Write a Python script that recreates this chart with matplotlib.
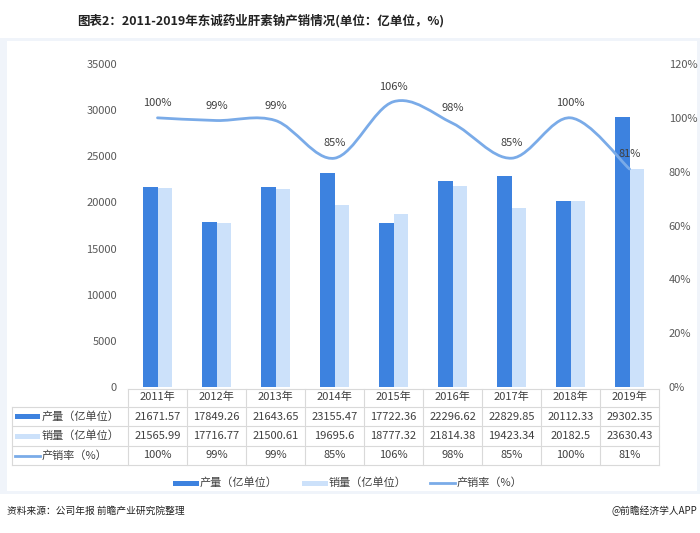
import numpy as np
import matplotlib
matplotlib.use("Agg")
import matplotlib.pyplot as plt
from matplotlib.path import Path
from matplotlib.patches import PathPatch, Rectangle
from matplotlib.lines import Line2D
from matplotlib.transforms import blended_transform_factory
from matplotlib.ticker import FuncFormatter, MultipleLocator

plt.rcParams['font.family'] = ['Noto Sans CJK SC', 'DejaVu Sans']

years = ['2011年', '2012年', '2013年', '2014年', '2015年', '2016年', '2017年', '2018年', '2019年']
production = [21671.57, 17849.26, 21643.65, 23155.47, 17722.36, 22296.62, 22829.85, 20112.33, 29302.35]
sales = [21565.99, 17716.77, 21500.61, 19695.6, 18777.32, 21814.38, 19423.34, 20182.5, 23630.43]
rate = [100, 99, 99, 85, 106, 98, 85, 100, 81]
prod_labels = ['21671.57', '17849.26', '21643.65', '23155.47', '17722.36', '22296.62', '22829.85', '20112.33', '29302.35']
sales_labels = ['21565.99', '17716.77', '21500.61', '19695.6', '18777.32', '21814.38', '19423.34', '20182.5', '23630.43']
series_names = ['产量（亿单位）', '销量（亿单位）', '产销率（%）']
title = '图表2：2011-2019年东诚药业肝素钠产销情况(单位：亿单位，%)'
source = '资料来源：公司年报 前瞻产业研究院整理'
credit = '@前瞻经济学人APP'

C_DARK = '#3d82df'
C_LIGHT = '#cce1fa'
C_LINE = '#7aabe8'
C_TEXT = '#595959'
C_GRID = '#d9d9d9'
FS = 8

W, H = 700, 533
fig = plt.figure(figsize=(W / 100, H / 100), dpi=100)

def fx(px):
    return px / W

def fy(py):
    return 1 - py / H

# panel frame
fig.add_artist(Rectangle((fx(0), fy(494)), fx(700), (494 - 38) / H, transform=fig.transFigure,
                         facecolor='#f0f4fa', edgecolor='none', zorder=0))
fig.add_artist(Rectangle((fx(7), fy(491)), fx(690), (491 - 41) / H, transform=fig.transFigure,
                         facecolor='white', edgecolor='none', zorder=0))

ax = fig.add_axes([fx(128), fy(387), (659 - 128) / W, (387 - 64) / H])
ax.set_facecolor('none')
ax2 = ax.twinx()

x = np.arange(len(years))
ax.bar(x - 0.125, production, width=0.25, color=C_DARK, zorder=2)
ax.bar(x + 0.125, sales, width=0.23, color=C_LIGHT, zorder=2)
ax.set_xlim(-0.5, len(years) - 0.5)
ax.set_ylim(0, 35000)
ax.yaxis.set_major_locator(MultipleLocator(5000))
ax.set_xticks([])

ax2.set_ylim(0, 120)
ax2.yaxis.set_major_locator(MultipleLocator(20))
ax2.yaxis.set_major_formatter(FuncFormatter(lambda v, p: f'{v:.0f}%'))

for a in (ax, ax2):
    for s in a.spines.values():
        s.set_visible(False)
    a.tick_params(length=0, labelsize=FS, labelcolor=C_TEXT)
ax.tick_params(axis='y', pad=8)
ax2.tick_params(axis='y', pad=7)

# smoothed line via cubic Bezier path
pts = np.column_stack([x, np.array(rate, dtype=float)])
n = len(pts)
verts = [pts[0]]
codes = [Path.MOVETO]
for i in range(n - 1):
    p0 = pts[max(i - 1, 0)]
    p1 = pts[i]
    p2 = pts[i + 1]
    p3 = pts[min(i + 2, n - 1)]
    c1 = p1 + (p2 - p0) / 6
    c2 = p2 - (p3 - p1) / 6
    verts += [c1, c2, p2]
    codes += [Path.CURVE4] * 3
ax2.add_patch(PathPatch(Path(verts, codes), facecolor='none', edgecolor=C_LINE, lw=2.0,
                        capstyle='round', zorder=3))
for xi, r in zip(x, rate):
    ax2.annotate(f'{r}%', (xi, r), xytext=(0, 7), textcoords='offset points',
                 ha='center', va='bottom', fontsize=FS, color='#404040')

# table
bt = blended_transform_factory(ax.transData, fig.transFigure)
row_y = [397, 416.5, 436, 455.5]
for xi, yr in zip(x, years):
    fig.text(xi, fy(row_y[0]), yr, transform=bt, ha='center', va='center', fontsize=FS, color='#404040')
for xi, pl, sl, r in zip(x, prod_labels, sales_labels, rate):
    fig.text(xi, fy(row_y[1]), pl, transform=bt, ha='center', va='center', fontsize=FS, color='#404040')
    fig.text(xi, fy(row_y[2]), sl, transform=bt, ha='center', va='center', fontsize=FS, color='#404040')
    fig.text(xi, fy(row_y[3]), f'{r}%', transform=bt, ha='center', va='center', fontsize=FS, color='#404040')

# grid lines
for yy in [407, 426, 445.5, 465]:
    fig.add_artist(Line2D([fx(12), fx(659)], [fy(yy), fy(yy)], transform=fig.transFigure, color=C_GRID, lw=0.8))
fig.add_artist(Line2D([fx(128), fx(659)], [fy(389), fy(389)], transform=fig.transFigure, color=C_GRID, lw=0.8))
for b in np.arange(-0.5, len(years), 1.0):
    fig.add_artist(Line2D([b, b], [fy(389), fy(465)], transform=bt, color=C_GRID, lw=0.8))
fig.add_artist(Line2D([fx(12), fx(12)], [fy(407), fy(465)], transform=fig.transFigure, color=C_GRID, lw=0.8))

# row labels
fig.add_artist(Rectangle((fx(15), fy(419)), fx(25), 5 / H, transform=fig.transFigure, facecolor=C_DARK, edgecolor='none'))
fig.add_artist(Rectangle((fx(15), fy(438.5)), fx(25), 5 / H, transform=fig.transFigure, facecolor=C_LIGHT, edgecolor='none'))
fig.add_artist(Line2D([fx(15), fx(40)], [fy(455.5), fy(455.5)], transform=fig.transFigure, color=C_LINE, lw=2.0))
for yy, name in zip(row_y[1:], series_names):
    fig.text(fx(42), fy(yy), name, ha='left', va='center', fontsize=FS, color='#404040')

# bottom legend
ly = 483
fig.add_artist(Rectangle((fx(173), fy(ly + 2.5)), fx(26), 5 / H, transform=fig.transFigure, facecolor=C_DARK, edgecolor='none'))
fig.text(fx(200), fy(ly), series_names[0], ha='left', va='center', fontsize=FS, color='#404040')
fig.add_artist(Rectangle((fx(302), fy(ly + 2.5)), fx(26), 5 / H, transform=fig.transFigure, facecolor=C_LIGHT, edgecolor='none'))
fig.text(fx(329), fy(ly), series_names[1], ha='left', va='center', fontsize=FS, color='#404040')
fig.add_artist(Line2D([fx(430), fx(455)], [fy(ly), fy(ly)], transform=fig.transFigure, color=C_LINE, lw=2.0))
fig.text(fx(457), fy(ly), series_names[2], ha='left', va='center', fontsize=FS, color='#404040')

# title & footer
fig.text(fx(261), fy(21), title, ha='center', va='center', fontsize=9, fontweight='bold', color='#222222')
fig.text(fx(7), fy(511), source, ha='left', va='center', fontsize=7, color='#222222')
fig.text(fx(697), fy(511), credit, ha='right', va='center', fontsize=7, color='#222222')

fig.savefig('out.png', dpi=100)
